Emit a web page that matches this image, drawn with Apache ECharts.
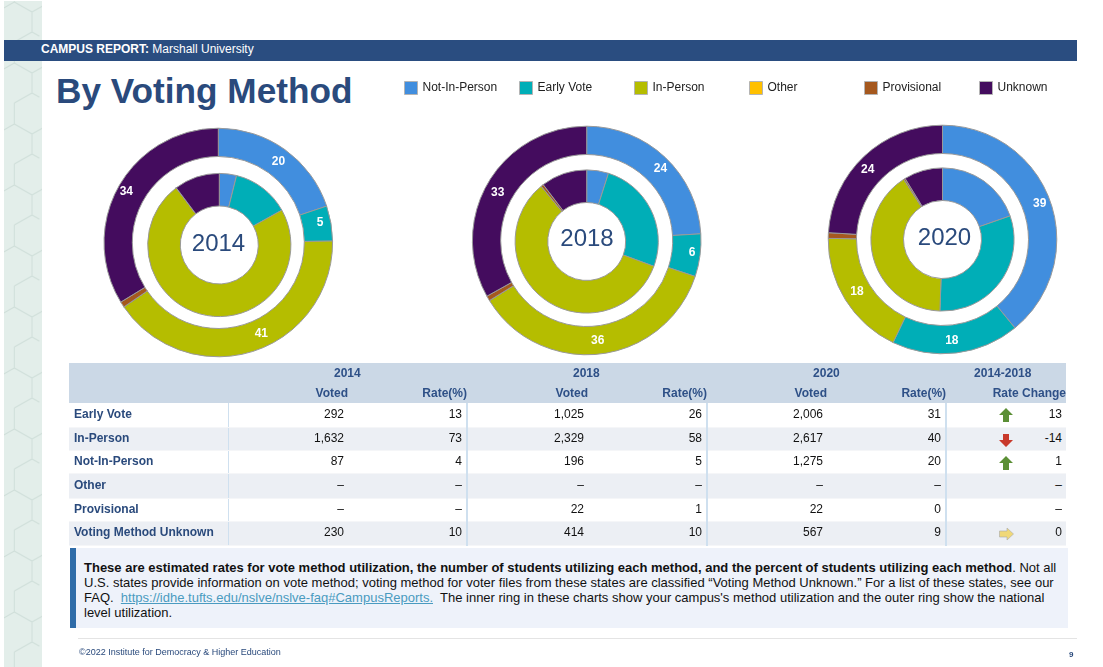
<!DOCTYPE html>
<html>
<head>
<meta charset="utf-8">
<script src="https://cdn.jsdelivr.net/npm/echarts@6/dist/echarts.min.js"></script>
<style>
  html, body { margin: 0; padding: 0; background: #fff; }
  body { font-family: "Liberation Sans", Arial, sans-serif; }
  #page { position: relative; width: 1103px; height: 667px; overflow: hidden; }
  #page > * { position: absolute; }
  #chart { left: 0; top: 0; width: 1103px; height: 667px; }
  #strip { left: 4px; top: 0; width: 38px; height: 667px; }
  #band { left: 4px; top: 40px; width: 1073px; height: 21px; background: #2a4d80; color: #fff; font-size: 12px; line-height: 18px; box-sizing: border-box; padding-left: 37px; }
  #heading { left: 56px; top: 70px; font-size: 35.2px; line-height: 42px; font-weight: bold; color: #2a4a7c; white-space: nowrap; }
  #methods { left: 69px; top: 363px; width: 997px; border-collapse: collapse; table-layout: fixed; font-size: 12px; }
  #methods th { background: #cbd8e6; color: #2e5087; font-weight: bold; text-align: right; padding: 0; height: 20px; white-space: nowrap; }
  #methods td { padding: 0 4px 2px 0; text-align: right; color: #111; white-space: nowrap; border-bottom: 1px solid #f5f6f8; }
  #methods td.name { text-align: left; padding-left: 5px; font-weight: bold; color: #2a4a7c; border-right: 1px solid #cfe0ef; }
  #methods td.rate { border-right: 2px solid #cfe0ef; }
  #methods tr.alt td { background: #eceff4; }
  #methods td.change { position: relative; }
  #methods td.change svg { position: absolute; left: 52px; top: 5px; }
  #note { left: 70px; top: 548px; width: 998px; height: 80px; background: #eef2fa; box-sizing: border-box; border-left: 6px solid #2f6ca8; padding: 12px 0 0 8px; font-size: 13px; line-height: 15px; color: #111; white-space: nowrap; }
  #note a { color: #4a9bc0; text-decoration: underline; }
  #rule { left: 78px; top: 638px; width: 999px; height: 1px; background: #e4e4e4; }
  #copy { left: 79px; top: 647px; font-size: 9px; line-height: 11px; color: #2a4a7c; }
  #pageno { left: 1069px; top: 650px; font-size: 8px; line-height: 10px; font-weight: bold; color: #2a4a7c; }
</style>
</head>
<body>
<div id="page">
  <svg id="strip" xmlns="http://www.w3.org/2000/svg">
    <defs>
      <pattern id="hex" width="35.4" height="61" y="60" patternUnits="userSpaceOnUse">
        <rect width="35.4" height="61" fill="#e3eeea"/>
        <path d="M28 13 V33 M28 33 L10.3 43 M28 33 L45.7 43 M10.3 43 V61 M10.3 0 V3 M10.3 3 L28 13 M10.3 3 L-7.4 13 M28 13 L45.7 3" fill="none" stroke="#d0dfda" stroke-width="1"/>
      </pattern>
    </defs>
    <rect y="1" width="38" height="666" fill="url(#hex)"/>
  </svg>
  <div id="band"><b>CAMPUS REPORT:</b> Marshall University</div>
  <div id="heading">By Voting Method</div>
  <div id="chart"></div>
  <table id="methods"></table>
  <div id="note"><b>These are estimated rates for vote method utilization, the number of students utilizing each method, and the percent of students utilizing each method</b>. Not all<br>U.S. states provide information on vote method; voting method for voter files from these states are classified “Voting Method Unknown.” For a list of these states, see our<br>FAQ.&nbsp; <a>https://idhe.tufts.edu/nslve/nslve-faq#CampusReports.</a>&nbsp; The inner ring in these charts show your campus's method utilization and the outer ring show the national<br>level utilization.</div>
  <div id="rule"></div>
  <div id="copy">©2022 Institute for Democracy &amp; Higher Education</div>
  <div id="pageno">9</div>
</div>
<script>
// 图例和外环的顺序（顺时针，从12点开始）
const methods = ["Not-In-Person", "Early Vote", "In-Person", "Other", "Provisional", "Unknown"]
const colors = ["#418ede", "#00aeb7", "#b5bd00", "#ffc000", "#a5581e", "#440c5e"]

// 外环：全国数据，标签读自图上，Provisional 的宽度是估计值
const national2014 = [20, 5, 41, 0, 0.8, 34]
const national2018 = [24, 6, 36, 0, 0.7, 33]
const national2020 = [39, 18, 18, 0, 0.8, 24]

// 表格的行
const rowNames = ["Early Vote", "In-Person", "Not-In-Person", "Other", "Provisional", "Voting Method Unknown"]
const voted2014 = [292, 1632, 87, null, null, 230]
const rate2014 = [13, 73, 4, null, null, 10]
const voted2018 = [1025, 2329, 196, null, 22, 414]
const rate2018 = [26, 58, 5, null, 1, 10]
const voted2020 = [2006, 2617, 1275, null, 22, 567]
const rate2020 = [31, 40, 20, null, 0, 9]
const rateChange = [13, -14, 1, null, null, 0]

// 表格行对应到圆环顺序
const ringOrder = [2, 0, 1, 3, 4, 5]

const years = ["2014", "2018", "2020"]
const nationalByYear = [national2014, national2018, national2020]
const votedByYear = [voted2014, voted2018, voted2020]

const outerCenters = [[218.3, 242.5], [586.7, 240.5], [942.5, 239.5]]
const innerCenters = [[219.3, 245], [586.7, 241.5], [942.5, 239.5]]
const yearLabelPos = [[218.5, 232], [587, 227], [944.5, 226]]
const legendLefts = [404, 519, 634, 749, 864, 979]

// 外环标签的微调，原图的标签不完全在扇区中点
const labelNudges = [
  { 0: [0, 3], 1: [0, -3], 2: [12, -7], 5: [-2, 0] },
  { 0: [3, 3], 1: [3, -1], 2: [-1, -2], 5: [0, 4] },
  { 0: [0, -1], 1: [-3, -1], 2: [2, -2], 5: [-4, 5] }
]

function ringData(values) {
  return methods.map((name, i) => ({ name: name, value: values[i] }))
}

const series = []
years.forEach((year, i) => {
  const campus = ringOrder.map((r) => votedByYear[i][r] || 0)
  // 外环
  series.push({
    type: "pie",
    name: year + " national",
    radius: [86, 114.3],
    center: outerCenters[i],
    startAngle: 90,
    minShowLabelAngle: 10,
    data: ringData(nationalByYear[i]),
    label: {
      position: "inside",
      formatter: "{c}",
      color: "#fff",
      fontSize: 12,
      fontWeight: "bold",
      fontFamily: "Liberation Sans",
      textBorderWidth: 0
    },
    labelLayout: function (params) {
      const nudge = labelNudges[i][params.dataIndex] || [0, 0]
      return { dx: nudge[0], dy: nudge[1] }
    },
    labelLine: { show: false },
    itemStyle: { borderColor: "#999", borderWidth: 1 },
    emphasis: { disabled: true }
  })
  // 内环
  series.push({
    type: "pie",
    name: year + " campus",
    radius: [39, 71.6],
    center: innerCenters[i],
    startAngle: 90,
    data: ringData(campus),
    label: { show: false },
    labelLine: { show: false },
    itemStyle: { borderColor: "#999", borderWidth: 1 },
    emphasis: { disabled: true }
  })
})

const chart = echarts.init(document.getElementById("chart"))
chart.setOption({
  animation: false,
  color: colors,
  title: years.map((year, i) => ({
    text: year,
    left: yearLabelPos[i][0],
    top: yearLabelPos[i][1],
    textAlign: "center",
    padding: 0,
    textStyle: { fontSize: 24, fontWeight: "normal", color: "#2a4a7c", fontFamily: "Liberation Sans" }
  })),
  legend: methods.map((name, i) => ({
    data: [name],
    left: legendLefts[i],
    top: 81,
    padding: 0,
    icon: "rect",
    itemWidth: 13,
    itemHeight: 13,
    selectedMode: false,
    itemStyle: { borderColor: "#b4b4b4", borderWidth: 1 },
    textStyle: { fontSize: 12, color: "#222", fontFamily: "Liberation Sans" }
  })),
  series: series
})

// 表格
function fmt(v) {
  return v === null ? "–" : v.toLocaleString("en-US")
}
function arrow(v) {
  if (v === null) return ""
  if (v > 0) return '<svg width="14" height="14"><path d="M7 0 L14 7 H10 V14 H4 V7 H0 Z" fill="#5b8f35"/></svg>'
  if (v < 0) return '<svg width="14" height="14"><path d="M7 14 L14 7 H10 V1 H4 V7 H0 Z" fill="#c8392b"/></svg>'
  return '<svg width="15" height="14"><path d="M14.5 7 L8 1 V4 H0.5 V10 H8 V13 Z" fill="#f0d878" stroke="#aaa" stroke-width="0.6"/></svg>'
}
const colWidths = [159, 120, 119, 121, 119, 120, 119, 120]
const rowHeights = [24, 23, 23.5, 24.5, 23, 24]
let html = "<colgroup>" + colWidths.map((w) => '<col style="width:' + w + 'px">').join("") + "</colgroup>"
html += "<tr><th></th>"
years.forEach((year) => {
  html += '<th colspan="2" style="text-align:left;padding-left:106px">' + year + "</th>"
})
html += '<th style="padding-left:28px;text-align:left">2014-2018</th></tr>'
html += "<tr><th></th><th>Voted</th><th>Rate(%)</th><th>Voted</th><th>Rate(%)</th><th>Voted</th><th>Rate(%)</th><th>Rate Change</th></tr>"
rowNames.forEach((name, i) => {
  html += "<tr" + (i % 2 ? ' class="alt"' : "") + ' style="height:' + rowHeights[i] + 'px">'
  html += '<td class="name">' + name + "</td>"
  votedByYear.forEach((voted, y) => {
    const rate = [rate2014, rate2018, rate2020][y]
    html += "<td>" + fmt(voted[i]) + '</td><td class="rate">' + fmt(rate[i]) + "</td>"
  })
  html += '<td class="change">' + arrow(rateChange[i]) + fmt(rateChange[i]) + "</td></tr>"
})
document.getElementById("methods").innerHTML = html
</script>
</body>
</html>
